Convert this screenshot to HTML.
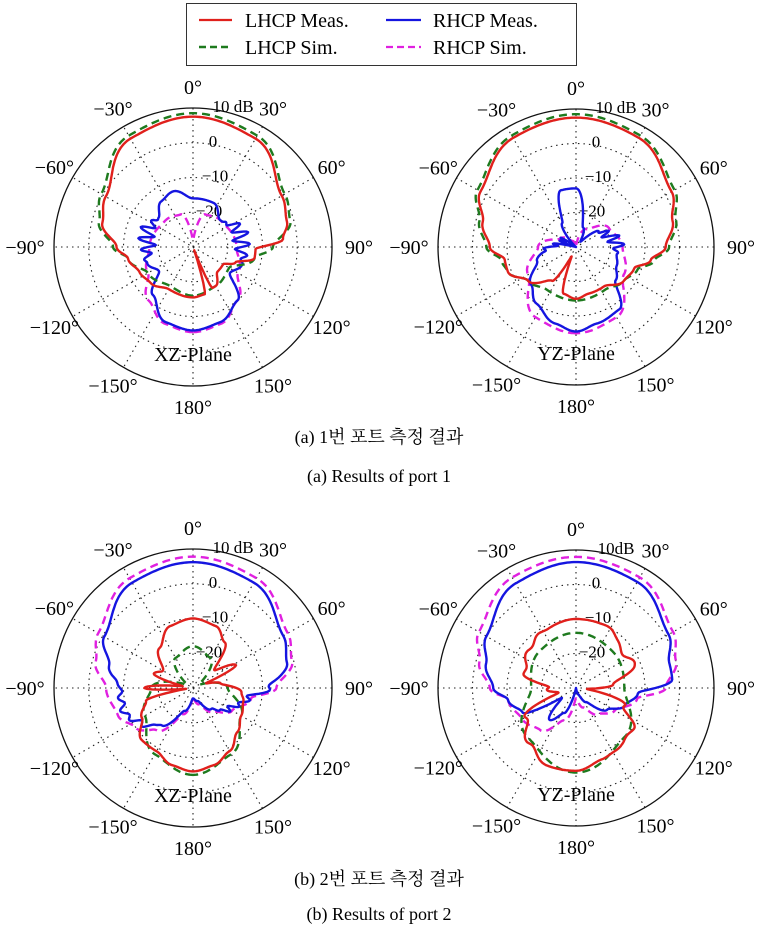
<!DOCTYPE html>
<html><head><meta charset="utf-8">
<style>
html,body{margin:0;padding:0;background:#fff;}
svg{display:block;font-family:"Liberation Serif",serif;}
.cap{font-family:"Liberation Serif","Noto Serif CJK SC","Noto Sans CJK KR",serif;}
</style></head><body>
<svg id="s" width="758" height="927" viewBox="0 0 758 927" xmlns="http://www.w3.org/2000/svg">
<rect x="186.5" y="3.5" width="390" height="62" fill="#fff" stroke="#333" stroke-width="1"/>
<line x1="199" y1="20" x2="232" y2="20" stroke="#e0201c" stroke-width="2.2"/>
<text x="245" y="27" font-size="20">LHCP Meas.</text>
<line x1="199" y1="47" x2="232" y2="47" stroke="#1e7a1e" stroke-width="2.5" stroke-dasharray="7,4"/>
<text x="245" y="54" font-size="20">LHCP Sim.</text>
<line x1="386" y1="20" x2="421" y2="20" stroke="#1515e0" stroke-width="2.2"/>
<text x="433" y="27" font-size="20">RHCP Meas.</text>
<line x1="386" y1="47" x2="421" y2="47" stroke="#e020e0" stroke-width="2.2" stroke-dasharray="7,4"/>
<text x="433" y="54" font-size="20">RHCP Sim.</text>
<text class="cap" x="379" y="443" font-size="18" text-anchor="middle">(a) 1번 포트 측정 결과</text>
<text class="cap" x="379" y="482" font-size="18" text-anchor="middle">(a)  Results of port 1</text>
<text class="cap" x="379" y="885" font-size="18" text-anchor="middle">(b) 2번 포트 측정 결과</text>
<text class="cap" x="379" y="920" font-size="18" text-anchor="middle">(b)  Results of port 2</text>
<g id="plots"></g>
</svg>
<script>
var NS="http://www.w3.org/2000/svg";
var G=document.getElementById("plots");
function el(t,a,txt){var e=document.createElementNS(NS,t);for(var k in a)e.setAttribute(k,a[k]);if(txt!==undefined)e.textContent=txt;G.appendChild(e);return e;}
function interp(kp,a){
  kp=kp.slice().sort(function(p,q){return p[0]-q[0];});
  var n=kp.length;
  var ext=[[kp[n-1][0]-360,kp[n-1][1]]].concat(kp).concat([[kp[0][0]+360,kp[0][1]]]);
  for(var i=0;i<ext.length-1;i++){
    if(a>=ext[i][0]&&a<=ext[i+1][0]){
      var t=(a-ext[i][0])/(ext[i+1][0]-ext[i][0]||1);
      t=(1-Math.cos(Math.PI*t))/2;
      return ext[i][1]+(ext[i+1][1]-ext[i][1])*t;
    }
  }
  return kp[0][1];
}
function plot(cx,cy,R,title,series,dbLabel){
  var k=R/40;
  [1,2,3].forEach(function(i){el("circle",{cx:cx,cy:cy,r:R*i/4,fill:"none",stroke:"#222","stroke-width":1.1,"stroke-dasharray":"1.5,4"});});
  for(var a=0;a<180;a+=30){var r=a*Math.PI/180;
    el("line",{x1:cx+R*Math.sin(r),y1:cy-R*Math.cos(r),x2:cx-R*Math.sin(r),y2:cy+R*Math.cos(r),stroke:"#222","stroke-width":1.1,"stroke-dasharray":"1.5,4"});}
  el("circle",{cx:cx,cy:cy,r:R,fill:"none",stroke:"#111","stroke-width":1.3});
  var labs={0:"0°",30:"30°",60:"60°",90:"90°",120:"120°",150:"150°",180:"180°",
   "-30":"−30°","-60":"−60°","-90":"−90°","-120":"−120°","-150":"−150°"};
  for(var key in labs){var a=+key*Math.PI/180;var rr=R+21;
    var x=cx+rr*Math.sin(a),y=cy-rr*Math.cos(a)+7;
    if(+key==90)x+=6; if(+key==-90)x-=8;
    el("text",{x:x,y:y,"font-size":20,"text-anchor":"middle"},labs[key]);}
  el("text",{x:cx+40,y:cy-R+4,"font-size":17,"text-anchor":"middle"},dbLabel);
  el("text",{x:cx+20,y:cy-R*3/4+4,"font-size":17,"text-anchor":"middle"},"0");
  el("text",{x:cx+22,y:cy-R/2+4,"font-size":17,"text-anchor":"middle"},"−10");
  el("text",{x:cx+16,y:cy-R/4+4,"font-size":17,"text-anchor":"middle"},"−20");
  el("text",{x:cx,y:cy+R-25,"font-size":20,"text-anchor":"middle"},title);
  series.forEach(function(s){
    var d="";
    for(var a=-180;a<=180;a+=1){
      var v=interp(s.kp,a);
      if(s.rip) v+=s.rip(a);
      var r=Math.max(0,(v+30)*k);
      var ang=a*Math.PI/180;
      var x=cx+r*Math.sin(ang),y=cy-r*Math.cos(ang);
      d+=(d?"L":"M")+x.toFixed(1)+","+y.toFixed(1);
    }
    d+="Z";
    var at={d:d,fill:"none",stroke:s.c,"stroke-width":2.4,"stroke-linejoin":"round"};
    if(s.dash)at["stroke-dasharray"]="8,5";
    el("path",at);
  });
}
var RED="#e0201c",GRN="#1e7a1e",BLU="#1515e0",MAG="#e020e0";
function rip(amp,per,lo,hi){return function(a){var x=Math.abs(a);if(x<lo||x>hi)return 0;var w=Math.sin(Math.PI*(x-lo)/(hi-lo));return amp*w*Math.sin(a*2*Math.PI/per);};}
plot(193,247,139,"XZ-Plane",[
 {c:MAG,dash:1,kp:[[0,-28],[20,-20],[45,-19],[90,-17.5],[120,-15],[140,-10],[160,-6.5],[180,-5.5],[-160,-6.5],[-140,-10],[-120,-15],[-90,-17.5],[-45,-19],[-20,-20]]},
 {c:BLU,rip:rip(2.5,12,50,110),kp:[[0,-16],[-20,-13],[-35,-14],[-50,-17],[-70,-16],[-90,-17],[-110,-16],[-125,-18],[-140,-12],[-160,-7],[-180,-6],[160,-7],[140,-10],[125,-17],[110,-15],[90,-16],[70,-16],[45,-19],[25,-16]]},
 {c:GRN,dash:1,kp:[[0,8.5],[30,7],[60,0.5],[75,-1],[90,-7],[100,-12],[120,-18],[150,-17],[180,-16],[-150,-17],[-120,-15],[-100,-11],[-90,-7],[-75,-2],[-60,0.5],[-30,7]]},
 {c:RED,kp:[[0,7.5],[30,6],[60,-0.5],[75,-2],[85,-4],[92,-12],[100,-12],[110,-17],[120,-20],[135,-20],[150,-17],[155,-17],[160,-29],[166,-16],[180,-15.5],[-150,-16],[-130,-14],[-115,-13],[-100,-11],[-90,-8],[-75,-3],[-60,-1],[-30,6]]}
],"10 dB");
plot(576,247,138,"YZ-Plane",[
 {c:MAG,dash:1,kp:[[0,-30],[30,-24],[60,-19],[90,-16.5],[120,-14],[150,-6.5],[180,-5],[-150,-6.5],[-120,-14],[-90,-19],[-60,-25],[-30,-28]]},
 {c:BLU,rip:rip(2.5,12,55,100),kp:[[0,-13],[-15,-13],[-30,-22],[-50,-30],[-60,-25],[-75,-28],[-90,-22],[-110,-18],[-130,-13],[-145,-10],[-165,-7],[-180,-5.5],[165,-7],[145,-8],[130,-15],[115,-17],[100,-18],[85,-18],[70,-20],[55,-22],[40,-28],[20,-24]]},
 {c:GRN,dash:1,kp:[[0,8.5],[30,7.3],[60,3],[75,0],[90,-3],[100,-7],[110,-11],[125,-13],[145,-15],[180,-14.5],[-145,-15],[-125,-13],[-110,-9],[-100,-8],[-90,-4],[-75,-1],[-60,3],[-30,7.3]]},
 {c:RED,kp:[[0,7.5],[30,6.5],[60,2],[75,-1],[90,-4],[100,-8],[110,-12],[125,-13],[145,-16],[165,-16],[180,-15],[-165,-16],[-155,-27],[-145,-18],[-125,-13],[-110,-9],[-100,-9],[-90,-5],[-75,-2],[-60,2],[-30,6.5]]}
],"10 dB");
plot(193,688,139,"XZ-Plane",[
 {c:MAG,dash:1,kp:[[0,7.8],[30,6.5],[60,1.5],[75,-0.5],[90,-6],[100,-13],[120,-17],[140,-21],[160,-25],[180,-27],[-160,-22],[-140,-14],[-125,-10],[-110,-7],[-90,-5],[-75,-1],[-60,1.5],[-30,6.5]]},
 {c:BLU,rip:rip(1,10,80,140),kp:[[0,6.2],[30,5],[60,0],[75,-2],[90,-8],[100,-14],[120,-18],[140,-22],[160,-26],[180,-27],[-160,-23],[-140,-16],[-125,-12],[-110,-9],[-90,-9],[-75,-5],[-60,-0.5],[-30,5]]},
 {c:GRN,dash:1,kp:[[0,-18],[30,-20],[60,-28],[90,-20],[120,-14],[150,-8],[180,-5],[-150,-8],[-120,-14],[-90,-18],[-60,-28],[-30,-20]]},
 {c:RED,kp:[[0,-10],[20,-11],[35,-14],[50,-22],[62,-16],[70,-26],[80,-22],[95,-16],[105,-15],[120,-14],[135,-12],[150,-9],[165,-7],[180,-6],[-165,-7],[-150,-9],[-135,-9],[-120,-13],[-105,-16],[-97,-28],[-90,-16],[-80,-27],[-70,-18],[-60,-20],[-40,-15],[-20,-11]]}
],"10 dB");
plot(576,688,138,"YZ-Plane",[
 {c:MAG,dash:1,kp:[[0,8],[30,7],[60,2.5],[75,0],[90,-4],[100,-12],[120,-17],[140,-20],[160,-24],[180,-27],[-160,-20],[-140,-14],[-120,-12],[-100,-10],[-90,-5],[-75,-1],[-60,2.5],[-30,7]]},
 {c:BLU,kp:[[0,6.5],[30,5.5],[60,1],[75,-2],[85,-2],[95,-12],[110,-15],[125,-19],[145,-25],[160,-28],[175,-30],[-170,-30],[-155,-22],[-140,-18],[-125,-25],[-115,-13],[-100,-10],[-90,-6],[-75,-3],[-60,0],[-30,5]]},
 {c:GRN,dash:1,kp:[[0,-14],[45,-15],[90,-16],[135,-10],[180,-5.5],[-135,-10],[-90,-17],[-45,-15]]},
 {c:RED,rip:rip(0.8,20,20,160),kp:[[0,-10],[30,-10],[50,-13],[70,-12],[85,-20],[95,-26],[110,-15],[125,-10],[140,-9],[160,-8],[180,-6],[-160,-6],[-140,-9],[-120,-13],[-105,-24],[-90,-22],[-75,-15],[-60,-13],[-30,-11]]}
],"10dB");
</script>
</body></html>
